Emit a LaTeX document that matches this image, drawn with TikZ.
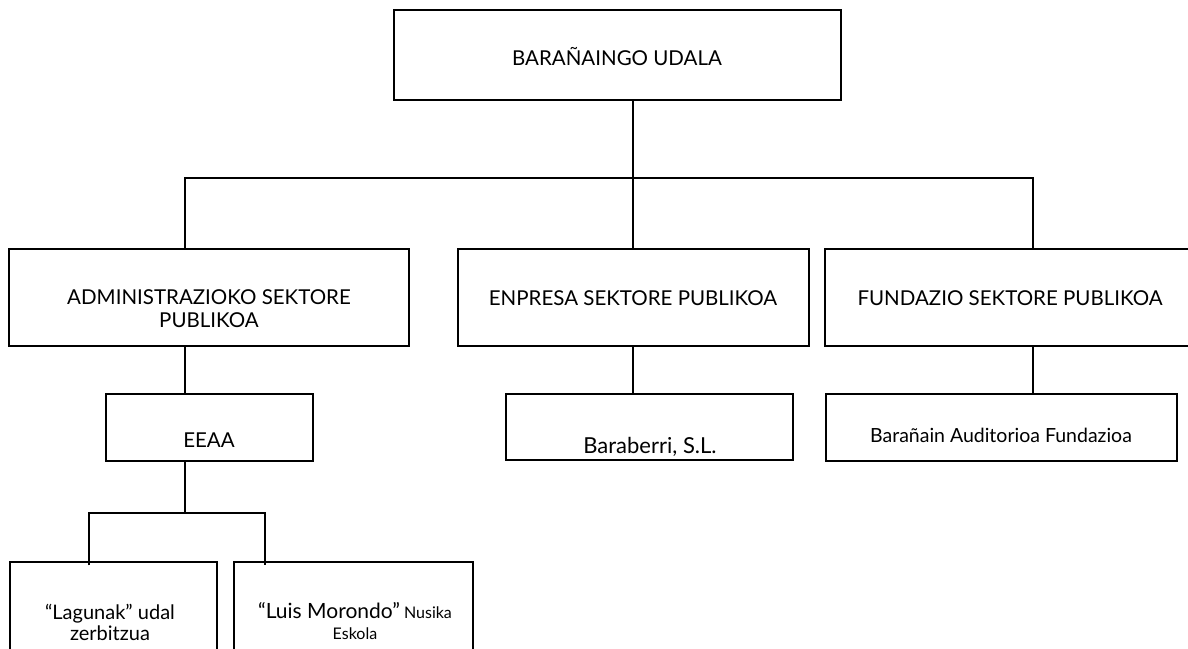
\documentclass[tikz,border=0pt]{standalone}
\usepackage{fontspec}
\setmainfont{Lato}
\begin{document}
\begin{tikzpicture}[x=1pt,y=-1pt,
  box/.style={draw=black,line width=1.5pt,rectangle,inner sep=0pt},
  lbl/.style={inner sep=0pt,font=\fontsize{20.5}{23}\selectfont,align=center},
  sml/.style={inner sep=0pt,font=\fontsize{20}{21}\selectfont,align=center},
  conn/.style={draw=black,line width=1.5pt}]
\useasboundingbox[fill=white] (0,0) rectangle (1188,648);
% boxes
\node[box,minimum width=447pt,minimum height=90pt] (top) at (617.5,55) {};
\node[box,minimum width=400pt,minimum height=97pt] (admin) at (209,297.5) {};
\node[box,minimum width=351pt,minimum height=97pt] (enpresa) at (633.5,297.5) {};
\node[box,minimum width=366pt,minimum height=97pt] (fundazio) at (1008,297.5) {};
\node[box,minimum width=207pt,minimum height=67pt] (eeaa) at (209.5,427.5) {};
\node[box,minimum width=287pt,minimum height=66pt] (baraberri) at (649.5,427) {};
\node[box,minimum width=351pt,minimum height=67pt] (auditorio) at (1001.5,427.5) {};
\node[box,minimum width=207pt,minimum height=92pt] (lagunak) at (113.5,608) {};
\node[box,minimum width=239pt,minimum height=92pt] (luis) at (353.5,608) {};
% texts
\node[lbl,anchor=base] (ttop) at (617,65) {BARAÑAINGO UDALA};
\node[lbl] (tadmin) at (209,309) {ADMINISTRAZIOKO SEKTORE\\PUBLIKOA};
\node[lbl,anchor=base] (tenpresa) at (633,305) {ENPRESA SEKTORE PUBLIKOA};
\node[lbl,anchor=base] (tfundazio) at (1010,305) {FUNDAZIO SEKTORE PUBLIKOA};
\node[lbl,anchor=base] (teeaa) at (209,447) {EEAA};
\node[sml,anchor=base,font=\fontsize{22}{24}\selectfont] (tbaraberri) at (650,453) {Baraberri, S.L.};
\node[sml,anchor=base,font=\fontsize{19.5}{21}\selectfont] (tauditorio) at (1001,442) {Barañain Auditorioa Fundazioa};
\node[sml] (tlagunak) at (110,622) {“Lagunak” udal\\zerbitzua};
\node[sml,font=\fontsize{21}{21}\selectfont] (tluis) at (355,621) {“Luis Morondo”{\fontsize{16}{21}\selectfont{} Nusika}\\{\fontsize{16}{21}\selectfont Eskola}};
% connectors
\coordinate (j1) at (633,178);
\coordinate (aL) at (185,178);
\coordinate (fR) at (1033,178);
\coordinate (e1) at (185,513);
\coordinate (e0) at (89,513);
\coordinate (e2) at (265,513);
\draw[conn] (top.south -| j1) -- (j1);
\draw[conn] (aL |- admin.north) -- (aL) -- (fR) -- (fR |- fundazio.north);
\draw[conn] (j1) -- (j1 |- enpresa.north);
\draw[conn] (admin.south -| aL) -- (eeaa.north -| aL);
\draw[conn] (enpresa.south -| j1) -- (baraberri.north -| j1);
\draw[conn] (fundazio.south -| fR) -- (auditorio.north -| fR);
\draw[conn] (eeaa.south -| e1) -- (e1);
\draw[conn] ([yshift=-4pt]e0 |- lagunak.north) -- (e0) -- (e2) -- ([yshift=-4pt]e2 |- luis.north);
\end{tikzpicture}
\end{document}
